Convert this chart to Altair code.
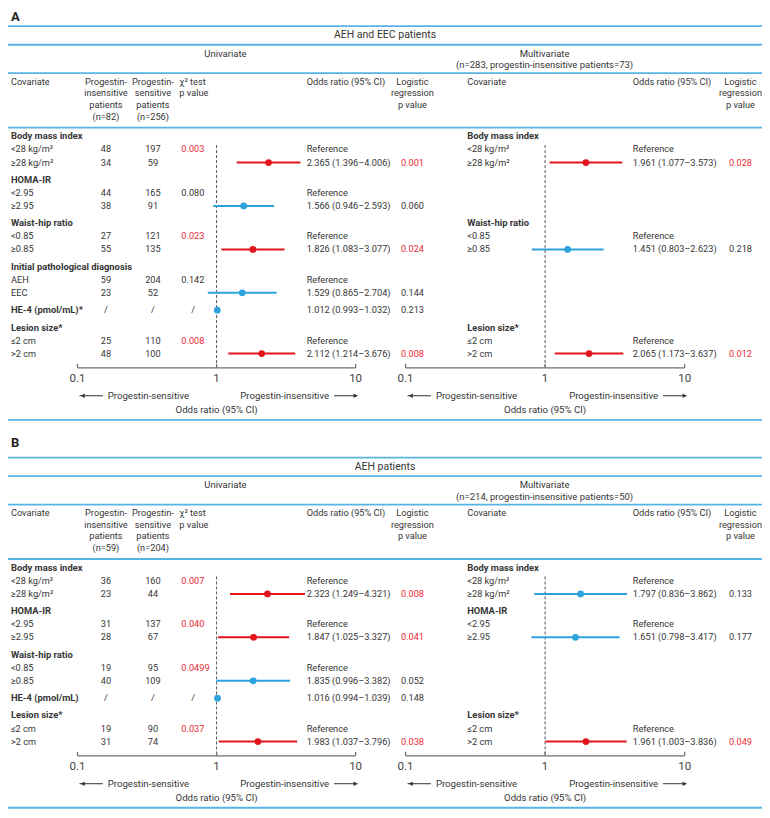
import altair as alt
import pandas as pd

# ---------------- data ----------------
A_letter = "A"
A_title = "AEH and EEC patients"
A_multi_head = ["Multivariate", "(n=283, progestin-insensitive patients=73)"]
A_n = ["(n=82)", "(n=256)"]
A_label = ["Body mass index", "<28 kg/m²", "≥28 kg/m²", "HOMA-IR", "<2.95", "≥2.95",
           "Waist-hip ratio", "<0.85", "≥0.85", "Initial pathological diagnosis", "AEH", "EEC",
           "HE-4 (pmol/mL)*", "Lesion size*", "≤2 cm", ">2 cm"]
A_kind = ["group", "level", "level", "group", "level", "level", "group", "level", "level",
          "group", "level", "level", "single", "group", "level", "level"]
A_insens = ["", "48", "34", "", "44", "38", "", "27", "55", "", "59", "23", "/", "", "25", "48"]
A_sens = ["", "197", "59", "", "165", "91", "", "121", "135", "", "204", "52", "/", "", "110", "100"]
A_chi_p = ["", "0.003", "", "", "0.080", "", "", "0.023", "", "", "0.142", "", "/", "", "0.008", ""]
A_or = [None, None, 2.365, None, None, 1.566, None, None, 1.826, None, None, 1.529, 1.012, None, None, 2.112]
A_lo = [None, None, 1.396, None, None, 0.946, None, None, 1.083, None, None, 0.865, 0.993, None, None, 1.214]
A_hi = [None, None, 4.006, None, None, 2.593, None, None, 3.077, None, None, 2.704, 1.032, None, None, 3.676]
A_lr_p = ["", "", "0.001", "", "", "0.060", "", "", "0.024", "", "", "0.144", "0.213", "", "", "0.008"]
A_m_label = ["Body mass index", "<28 kg/m²", "≥28 kg/m²", "", "", "", "Waist-hip ratio", "<0.85", "≥0.85",
             "", "", "", "", "Lesion size*", "≤2 cm", ">2 cm"]
A_m_or = [None, None, 1.961, None, None, None, None, None, 1.451, None, None, None, None, None, None, 2.065]
A_m_lo = [None, None, 1.077, None, None, None, None, None, 0.803, None, None, None, None, None, None, 1.173]
A_m_hi = [None, None, 3.573, None, None, None, None, None, 2.623, None, None, None, None, None, None, 3.637]
A_m_p = ["", "", "0.028", "", "", "", "", "", "0.218", "", "", "", "", "", "", "0.012"]

B_letter = "B"
B_title = "AEH patients"
B_multi_head = ["Multivariate", "(n=214, progestin-insensitive patients=50)"]
B_n = ["(n=59)", "(n=204)"]
B_label = ["Body mass index", "<28 kg/m²", "≥28 kg/m²", "HOMA-IR", "<2.95", "≥2.95",
           "Waist-hip ratio", "<0.85", "≥0.85", "HE-4 (pmol/mL)", "Lesion size*", "≤2 cm", ">2 cm"]
B_kind = ["group", "level", "level", "group", "level", "level", "group", "level", "level",
          "single", "group", "level", "level"]
B_insens = ["", "36", "23", "", "31", "28", "", "19", "40", "/", "", "19", "31"]
B_sens = ["", "160", "44", "", "137", "67", "", "95", "109", "/", "", "90", "74"]
B_chi_p = ["", "0.007", "", "", "0.040", "", "", "0.0499", "", "/", "", "0.037", ""]
B_or = [None, None, 2.323, None, None, 1.847, None, None, 1.835, 1.016, None, None, 1.983]
B_lo = [None, None, 1.249, None, None, 1.025, None, None, 0.996, 0.994, None, None, 1.037]
B_hi = [None, None, 4.321, None, None, 3.327, None, None, 3.382, 1.039, None, None, 3.796]
B_lr_p = ["", "", "0.008", "", "", "0.041", "", "", "0.052", "0.148", "", "", "0.038"]
B_m_label = ["Body mass index", "<28 kg/m²", "≥28 kg/m²", "HOMA-IR", "<2.95", "≥2.95",
             "", "", "", "", "Lesion size*", "≤2 cm", ">2 cm"]
B_m_or = [None, None, 1.797, None, None, 1.651, None, None, None, None, None, None, 1.961]
B_m_lo = [None, None, 0.836, None, None, 0.798, None, None, None, None, None, None, 1.003]
B_m_hi = [None, None, 3.862, None, None, 3.417, None, None, None, None, None, None, 3.836]
B_m_p = ["", "", "0.133", "", "", "0.177", "", "", "", "", "", "", "0.049"]

TICKS = [0.1, 1, 10]
TICK_LABELS = ["0.1", "1", "10"]

# ---------------- layout / style ----------------
W, H = 754, 802
RW, RH = 770, 818
FONT = "Roboto"
TXT = "#363636"
RED = "#e2141c"
RED_TXT = "#ea2a33"
BLUE = "#2ca3dc"
RULE = "#58b4e5"
AX = "#707070"


def px(x):
    return round(x * W / RW, 2)


texts, rules, forest, axes, ticks, arrows, arrow_txt = [], [], [], [], [], [], []


def T(t, x, y, align="left", size=9.2, weight="normal", color=TXT):
    texts.append(dict(t=t, x=px(x), y=y, align=align, size=size, weight=weight, color=color))


def pcol(p):
    try:
        return RED_TXT if float(p) < 0.05 else TXT
    except ValueError:
        return TXT


def fmt(o, l, h):
    return f"{o:.3f} ({l:.3f}\u2013{h:.3f})"


def section(dy, letter_y, letter, title, mhead, n, label, kind, insens, sens, chi,
            orv, lo, hi, lrp, mlabel, mor, mlo, mhi, mp):
    T(letter, 3, letter_y, size=13, weight="bold", color="#222222")
    for r in (18.5, 37.5, 66.5, 122):
        rules.append(dict(y=r + dy))
    T(title, 385, 27.8 + dy, "center", 10.5)
    T("Univariate", 222, 47 + dy, "center", 9.5)
    T(mhead[0], 548, 47 + dy, "center", 9.5)
    T(mhead[1], 548, 58.3 + dy, "center", 9.5)
    hy = 75 + dy
    T("Covariate", 3, hy)
    for i, s in enumerate(["Progestin-", "insensitive", "patients", n[0]]):
        T(s, 100, hy + 12 * i, "center")
    for i, s in enumerate(["Progestin-", "sensitive", "patients", n[1]]):
        T(s, 148, hy + 12 * i, "center")
    T("χ² test", 175, hy)
    T("p value", 175, hy + 12)
    T("Odds ratio (95% CI)", 305, hy)
    for i, s in enumerate(["Logistic", "regression", "p value"]):
        T(s, 413, hy + 12 * i, "center")
    T("Covariate", 469, hy)
    T("Odds ratio (95% CI)", 638, hy)
    for i, s in enumerate(["Logistic", "regression", "p value"]):
        T(s, 748, hy + 12 * i, "center")

    # rows
    ys, y = [], 131 + dy
    for i, k in enumerate(kind):
        if i > 0:
            y += 17.7 if k in ("group", "single") else 13.3
        ys.append(round(y, 1))
    for i, k in enumerate(kind):
        yy = ys[i]
        bold = k in ("group", "single")
        T(label[i], 3, yy, weight="bold" if bold else "normal", size=9.4 if bold else 9.2)
        if insens[i]:
            T(insens[i], 100, yy, "center")
        if sens[i]:
            T(sens[i], 148, yy, "center")
        if chi[i] == "/":
            T("/", 189, yy, "center")
        elif chi[i]:
            T(chi[i], 177, yy, color=pcol(chi[i]))
        if orv[i] is not None:
            T(fmt(orv[i], lo[i], hi[i]), 305, yy)
            forest.append(dict(panel="u", y=yy, o=orv[i], lo=lo[i], hi=hi[i],
                               c=RED if lo[i] > 1 else BLUE))
        elif k == "level":
            T("Reference", 305, yy)
        if lrp[i]:
            T(lrp[i], 413, yy, "center", color=pcol(lrp[i]))
        # multivariate
        if mlabel[i]:
            T(mlabel[i], 469, yy, weight="bold" if bold else "normal", size=9.4 if bold else 9.2)
            if mor[i] is not None:
                T(fmt(mor[i], mlo[i], mhi[i]), 638, yy)
                forest.append(dict(panel="m", y=yy, o=mor[i], lo=mlo[i], hi=mhi[i],
                                   c=RED if mlo[i] > 1 else BLUE))
            elif k == "level":
                T("Reference", 638, yy)
            if mp[i]:
                T(mp[i], 748, yy, "center", color=pcol(mp[i]))

    last = ys[-1]
    first_level = ys[1]
    ay = last + 14.5
    axes.append(dict(top=first_level - 4.5, ay=ay, one=1, a=0.1, b=10,
                     or_y=last + 57.5, or_t="Odds ratio (95% CI)"))
    for v, s in zip(TICKS, TICK_LABELS):
        ticks.append(dict(v=v, s=s, ay=ay, tt=ay - 4, ly=last + 26))
    arrows.append(dict(x1=0.1033, x2=0.152, tip=0.109, shp="triangle-left", y=last + 43))
    arrows.append(dict(x1=7.0, x2=10.3, tip=10.0, shp="triangle-right", y=last + 43))
    arrow_txt.append(dict(x=0.165, t="Progestin-sensitive", side="l", y=last + 43))
    arrow_txt.append(dict(x=6.45, t="Progestin-insensitive", side="r", y=last + 43))
    rules.append(dict(y=last + 67.5))


section(0, 9.5, A_letter, A_title, A_multi_head, A_n, A_label, A_kind, A_insens, A_sens, A_chi_p,
        A_or, A_lo, A_hi, A_lr_p, A_m_label, A_m_or, A_m_lo, A_m_hi, A_m_p)
section(440, 443.5, B_letter, B_title, B_multi_head, B_n, B_label, B_kind, B_insens, B_sens, B_chi_p,
        B_or, B_lo, B_hi, B_lr_p, B_m_label, B_m_or, B_m_lo, B_m_hi, B_m_p)

YS = alt.Scale(domain=[0, RH], range=[0, H])


def Yq(f):
    return alt.Y(f, type="quantitative", scale=YS, axis=None)


layers = []

# blue table rules
layers.append(
    alt.Chart(pd.DataFrame(rules)).mark_rule(color=RULE, strokeWidth=1.8).encode(
        x=alt.value(0), x2=alt.value(W), y=Yq("y"))
)

# text layers
tdf = pd.DataFrame(texts)
for (align, size, weight), g in tdf.groupby(["align", "size", "weight"]):
    layers.append(
        alt.Chart(g[["t", "x", "y", "color"]]).mark_text(
            align=align, baseline="middle", fontSize=float(size), fontWeight=weight, font=FONT
        ).encode(
            x=alt.X("x:Q", scale=None, axis=None), y=Yq("y"), text="t:N",
            color=alt.Color("color:N", scale=None))
    )

fdf = pd.DataFrame(forest)
adf = pd.DataFrame(axes)
kdf = pd.DataFrame(ticks)
rdf = pd.DataFrame(arrows)
atdf = pd.DataFrame(arrow_txt)


def panel(key, r0, r1):
    XS = alt.Scale(type="log", domain=[0.1, 10], range=[px(r0), px(r1)])

    def Xq(f):
        return alt.X(f, type="quantitative", scale=XS, axis=None)

    d = fdf[fdf["panel"] == key][["y", "o", "lo", "hi", "c"]]
    ls = []
    ls.append(alt.Chart(adf).mark_rule(color="#555555", strokeDash=[3, 2], strokeWidth=1).encode(
        x=Xq("one"), y=Yq("top"), y2=alt.Y2("ay")))
    ls.append(alt.Chart(adf).mark_rule(color=AX, strokeWidth=1.3).encode(
        x=Xq("a"), x2=alt.X2("b"), y=Yq("ay")))
    ls.append(alt.Chart(kdf).mark_rule(color=AX, strokeWidth=1.3).encode(
        x=Xq("v"), y=Yq("tt"), y2=alt.Y2("ay")))
    ls.append(alt.Chart(kdf).mark_text(fontSize=11.5, font=FONT, color="#444444", baseline="middle").encode(
        x=Xq("v"), y=Yq("ly"), text="s:N"))
    ls.append(alt.Chart(rdf).mark_rule(color="#333333", strokeWidth=1).encode(
        x=Xq("x1"), x2=alt.X2("x2"), y=Yq("y")))
    for shp in ("triangle-left", "triangle-right"):
        ls.append(alt.Chart(rdf[rdf["shp"] == shp]).mark_point(
            shape=shp, filled=True, size=22, color="#333333", opacity=1).encode(
            x=Xq("tip"), y=Yq("y")))
    for side, al in (("l", "left"), ("r", "right")):
        ls.append(alt.Chart(atdf[atdf["side"] == side]).mark_text(
            align=al, baseline="middle", fontSize=9.6, font=FONT, color=TXT).encode(
            x=Xq("x"), y=Yq("y"), text="t:N"))
    ls.append(alt.Chart(adf).mark_text(align="center", baseline="middle", fontSize=9.6, font=FONT,
                                       color=TXT).encode(x=Xq("one"), y=Yq("or_y"), text="or_t:N"))
    ls.append(alt.Chart(d).mark_rule(strokeWidth=2).encode(
        x=Xq("lo"), x2=alt.X2("hi"), y=Yq("y"), color=alt.Color("c:N", scale=None)))
    ls.append(alt.Chart(d).mark_circle(size=46, opacity=1).encode(
        x=Xq("o"), y=Yq("y"), color=alt.Color("c:N", scale=None)))
    return alt.layer(*ls)


layers.append(panel("u", 71, 355))
layers.append(panel("m", 406, 691))

chart = alt.layer(*layers).resolve_scale(x="independent").properties(
    width=W, height=H, autosize=alt.AutoSizeParams(type="none"), padding=0, background="white"
).configure_view(stroke=None)

chart.save("out.html", embed_options={"renderer": "svg", "actions": False})
